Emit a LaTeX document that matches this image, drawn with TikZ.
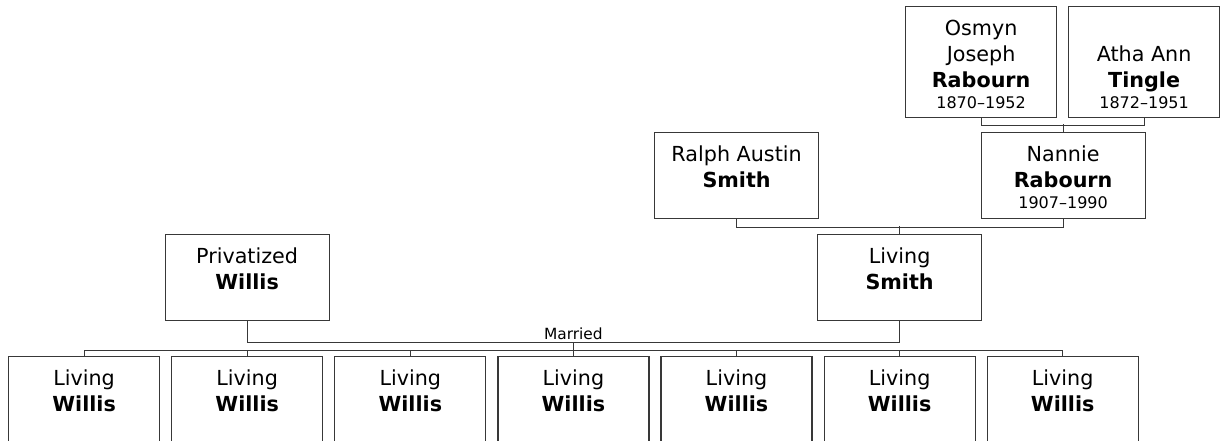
\documentclass[tikz,border=0pt]{standalone}
\usepackage{fontspec}
\setmainfont{DejaVu Sans}
\usetikzlibrary{calc}
\definecolor{edgegray}{RGB}{56,56,56}
\newcommand\yearsfont{\fontsize{16}{19}\selectfont}
\begin{document}
\begin{tikzpicture}[x=1pt,y=-1pt,
  person/.style={draw=edgegray, line width=1.2pt, fill=white, rectangle, inner sep=0pt, anchor=north west},
  widebox/.style={person, minimum width=164pt, minimum height=86pt},
  tallbox/.style={person, minimum width=151pt, minimum height=111pt},
  childbox/.style={person, minimum width=151pt, minimum height=111pt},
  nametext/.style={anchor=north, inner sep=0pt, align=center, font=\fontsize{20.7}{26}\selectfont},
  link/.style={draw=edgegray, line width=1.2pt},
]
\useasboundingbox (0,0) rectangle (1221,441);
\clip (0,0) rectangle (1221,441);
\fill[white] (0,0) rectangle (1221,441);

% grandparents
\node[tallbox] (osmyn) at (905,6) {};
\node[nametext] (osmynt) at ($(osmyn.north)+(0,12)$) {\rule{0pt}{17pt}Osmyn\\Joseph\\\textbf{Rabourn}\\[-5pt]{\yearsfont 1870–1952}};
\node[tallbox] (atha) at (1068,6) {};
\node[nametext] (athat) at ($(atha.north)+(0,38)$) {\rule{0pt}{17pt}Atha Ann\\\textbf{Tingle}\\[-5pt]{\yearsfont 1872–1951}};

% parents of Living Smith
\node[widebox] (ralph) at (654,132) {};
\node[nametext] (ralpht) at ($(ralph.north)+(0,12)$) {\rule{0pt}{17pt}Ralph Austin\\\textbf{Smith}};
\node[widebox] (nannie) at (980.5,132) {};
\node[nametext] (nanniet) at ($(nannie.north)+(0,12)$) {\rule{0pt}{17pt}Nannie\\\textbf{Rabourn}\\[-5pt]{\yearsfont 1907–1990}};

% couple
\node[widebox] (priv) at (164.5,234) {};
\node[nametext] (privt) at ($(priv.north)+(0,12)$) {\rule{0pt}{17pt}Privatized\\\textbf{Willis}};
\node[widebox] (lsmith) at (817,234) {};
\node[nametext] (lsmitht) at ($(lsmith.north)+(0,12)$) {\rule{0pt}{17pt}Living\\\textbf{Smith}};

% children
\foreach \i in {1,...,7} {
  \node[childbox] (c\i) at ({8+163.1*(\i-1)},356) {};
  \node[nametext] (c\i t) at ($(c\i.north)+(0,12)$) {\rule{0pt}{17pt}Living\\\textbf{Willis}};
}

% connectors
\draw[link] (osmyn.south) -- ++(0,7) -| (atha.south);
\draw[link] (nannie.north) -- ++(0,-8);
\draw[link] (ralph.south) -- ++(0,8) -| (nannie.south);
\draw[link] (lsmith.north) -- ++(0,-8);
\draw[link] (priv.south) -- ++(0,21) -| (lsmith.south);
\coordinate (mar) at ($(priv.south)!0.5!(lsmith.south)+(0,21)$);
\node[anchor=base, inner sep=0pt, font=\fontsize{15.4}{18}\selectfont] (married) at ($(mar)+(0,-3)$) {Married};
\draw[link] (mar) -- ++(0,8) coordinate (bus);
\draw[link] (c1.north) |- (bus) -| (c7.north);
\foreach \i in {2,...,6} {
  \draw[link] (c\i.north) -- (c\i.north |- bus);
}
\end{tikzpicture}
\end{document}
